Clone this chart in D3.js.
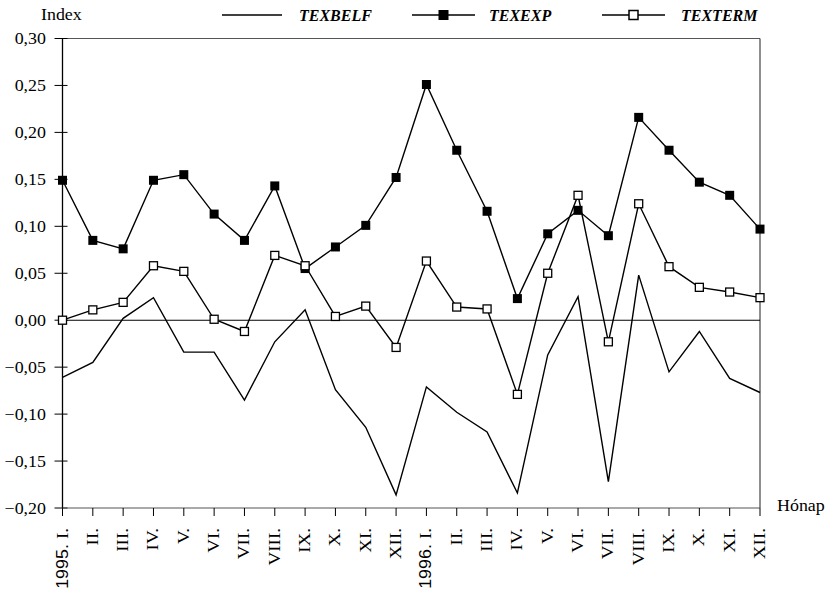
<!DOCTYPE html>
<html>
<head>
<meta charset="utf-8">
<script src="https://d3js.org/d3.v7.min.js"></script>
<style>
  html, body { margin: 0; padding: 0; background: #fff; }
  svg text { font-family: "Liberation Serif", "Times New Roman", serif; fill: #000; }
</style>
</head>
<body>
<svg id="chart" width="830" height="593"></svg>
<script>
// Months 1995–1996
const years = ["1995.", "", "", "", "", "", "", "", "", "", "", "", "1996.", "", "", "", "", "", "", "", "", "", "", ""];
const months = ["I.", "II.", "III.", "IV.", "V.", "VI.", "VII.", "VIII.", "IX.", "X.", "XI.", "XII.",
                "I.", "II.", "III.", "IV.", "V.", "VI.", "VII.", "VIII.", "IX.", "X.", "XI.", "XII."];

const texbelf = [-0.061, -0.045, 0.002, 0.024, -0.034, -0.034, -0.085, -0.023, 0.011, -0.074, -0.114, -0.186,
                 -0.071, -0.098, -0.119, -0.184, -0.037, 0.025, -0.172, 0.048, -0.055, -0.012, -0.062, -0.077];
const texexp  = [0.149, 0.085, 0.076, 0.149, 0.155, 0.113, 0.085, 0.143, 0.055, 0.078, 0.101, 0.152,
                 0.251, 0.181, 0.116, 0.023, 0.092, 0.117, 0.090, 0.216, 0.181, 0.147, 0.133, 0.097];
const texterm = [0.000, 0.011, 0.019, 0.058, 0.052, 0.001, -0.012, 0.069, 0.058, 0.004, 0.015, -0.029,
                 0.063, 0.014, 0.012, -0.079, 0.050, 0.133, -0.023, 0.124, 0.057, 0.035, 0.030, 0.024];

const yTicks = [0.30, 0.25, 0.20, 0.15, 0.10, 0.05, 0.00, -0.05, -0.10, -0.15, -0.20];
const seriesNames = ["TEXBELF", "TEXEXP", "TEXTERM"];

const svg = d3.select("#chart");
const plotL = 62.5, plotR = 760, plotT = 38.5, plotB = 508;
const WIDE = 1.12; // horizontal stretch of the typeface

const x = d3.scalePoint().domain(d3.range(months.length)).range([plotL, plotR]);
const y = d3.scaleLinear().domain([-0.20, 0.30]).range([plotB, plotT]);
const fmt = v => d3.format(".2f")(v).replace(".", ",").replace("-", "\u2212");

// Frame: top and right border
svg.append("line").attr("x1", plotL).attr("x2", plotR).attr("y1", plotT).attr("y2", plotT)
  .attr("stroke", "#555").attr("stroke-width", 1);
svg.append("line").attr("x1", plotR).attr("x2", plotR).attr("y1", plotT).attr("y2", plotB)
  .attr("stroke", "#444").attr("stroke-width", 1.2);

// Y axis with crossing ticks
const yAxis = svg.append("g");
yAxis.append("line").attr("x1", plotL).attr("x2", plotL).attr("y1", plotT).attr("y2", plotB)
  .attr("stroke", "#000").attr("stroke-width", 1.3);
yAxis.selectAll("line.tick").data(yTicks).join("line").attr("class", "tick")
  .attr("x1", plotL - 8).attr("x2", plotL + 5)
  .attr("y1", d => y(d)).attr("y2", d => y(d))
  .attr("stroke", "#000").attr("stroke-width", 1);
yAxis.selectAll("text").data(yTicks).join("text")
  .attr("transform", d => `translate(46,${y(d)}) scale(${WIDE},1)`)
  .attr("dy", "0.35em")
  .attr("text-anchor", "end").attr("font-size", 16)
  .text(fmt);

// Zero line
svg.append("line").attr("x1", plotL).attr("x2", plotR).attr("y1", y(0)).attr("y2", y(0))
  .attr("stroke", "#000").attr("stroke-width", 1.1);

// X axis along the bottom
svg.append("line").attr("x1", plotL).attr("x2", plotR).attr("y1", plotB).attr("y2", plotB)
  .attr("stroke", "#555").attr("stroke-width", 1.2);
svg.append("g").selectAll("line").data(d3.range(months.length)).join("line")
  .attr("x1", d => x(d)).attr("x2", d => x(d))
  .attr("y1", plotB).attr("y2", plotB + 8)
  .attr("stroke", "#000").attr("stroke-width", 1);

const xl = svg.append("g").selectAll("text").data(d3.range(months.length)).join("text")
  .attr("transform", d => `translate(${x(d) + 5},528) rotate(-90) scale(${WIDE},1)`)
  .attr("text-anchor", "end").attr("font-size", 17);
xl.filter(d => years[d]).append("tspan")
  .style("font-family", "'Liberation Sans', Arial, sans-serif").attr("font-size", 16)
  .text(d => years[d] + " ");
xl.append("tspan").text(d => months[d]);

// Axis titles
svg.append("text").attr("transform", `translate(41,20) scale(${WIDE},1)`)
  .attr("font-size", 16).text("Index");
svg.append("text").attr("transform", `translate(777,511) scale(${WIDE},1)`)
  .attr("font-size", 16).text("Hónap");

// Series lines
const line = d3.line().x((d, i) => x(i)).y(d => y(d));
[texbelf, texexp, texterm].forEach(s => {
  svg.append("path").datum(s).attr("d", line)
    .attr("fill", "none").attr("stroke", "#000").attr("stroke-width", 1.4)
    .attr("stroke-linejoin", "miter");
});

// Markers
svg.append("g").selectAll("rect").data(texexp).join("rect")
  .attr("x", (d, i) => x(i) - 4.5).attr("y", d => y(d) - 4.5)
  .attr("width", 9).attr("height", 9).attr("fill", "#000");
svg.append("g").selectAll("rect").data(texterm).join("rect")
  .attr("x", (d, i) => x(i) - 4).attr("y", d => y(d) - 4)
  .attr("width", 8).attr("height", 8).attr("fill", "#fff")
  .attr("stroke", "#000").attr("stroke-width", 1.3);

// Legend
const legend = [
  { name: seriesNames[0], x0: 222, x1: 282, tx: 299, mark: null },
  { name: seriesNames[1], x0: 412, x1: 475, tx: 489, mark: "filled" },
  { name: seriesNames[2], x0: 602, x1: 665, tx: 681, mark: "open" }
];
const lg = svg.append("g").selectAll("g").data(legend).join("g");
lg.append("line").attr("x1", d => d.x0).attr("x2", d => d.x1).attr("y1", 15).attr("y2", 15)
  .attr("stroke", "#000").attr("stroke-width", 1.4);
lg.filter(d => d.mark === "filled").append("rect")
  .attr("x", d => (d.x0 + d.x1) / 2 - 5).attr("y", 10).attr("width", 10).attr("height", 10)
  .attr("fill", "#000");
lg.filter(d => d.mark === "open").append("rect")
  .attr("x", d => (d.x0 + d.x1) / 2 - 4.5).attr("y", 10.5).attr("width", 9).attr("height", 9)
  .attr("fill", "#fff").attr("stroke", "#000").attr("stroke-width", 1.5);
lg.append("text").attr("x", d => d.tx).attr("y", 21)
  .attr("font-size", 16).attr("font-style", "italic").attr("font-weight", "bold")
  .text(d => d.name);
</script>
</body>
</html>
